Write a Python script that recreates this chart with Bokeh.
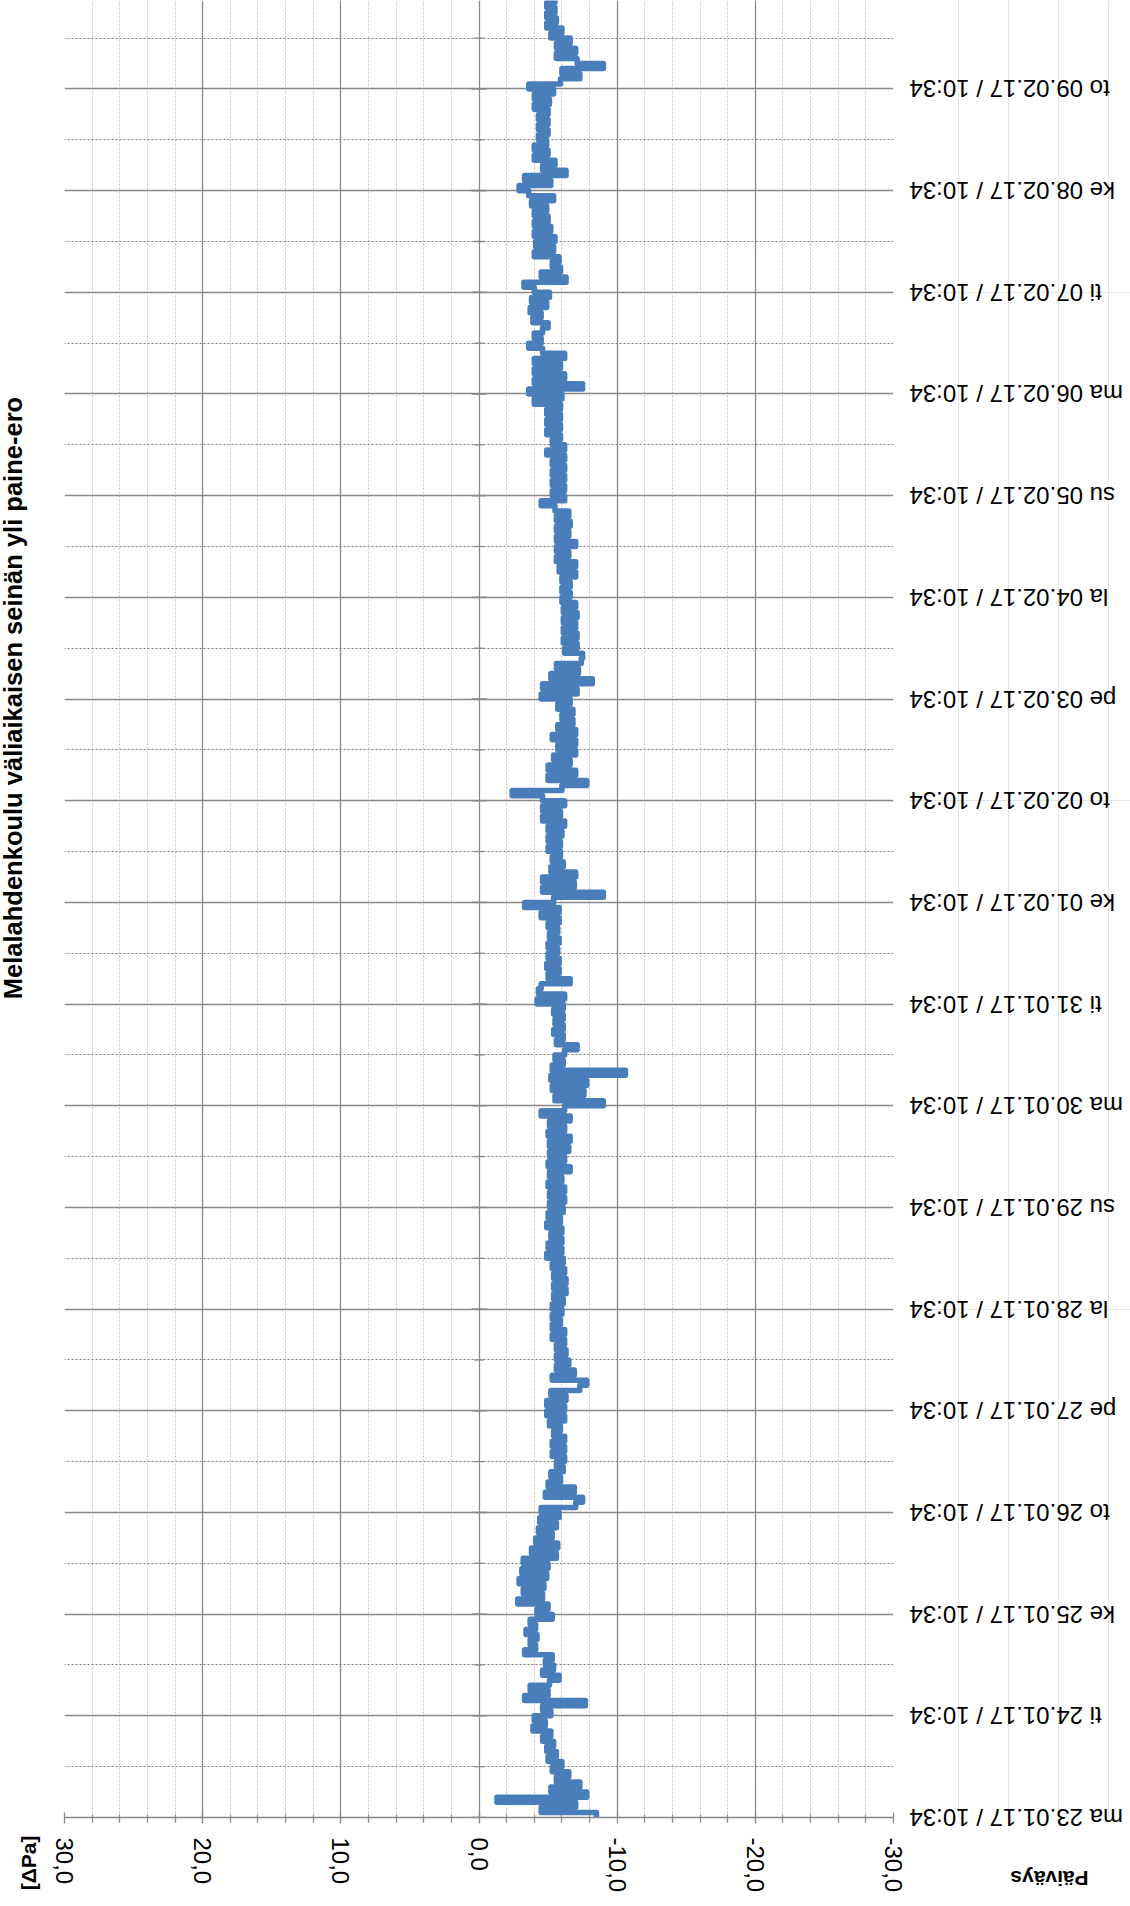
import math
import numpy as np
from bokeh.plotting import figure
from bokeh.layouts import row
from bokeh.models import Range1d, FixedTicker, Grid, Label
from bokeh.core.properties import value
from bokeh.embed import file_html
from bokeh.resources import INLINE

# ---------------- texts ----------------
title_text = "Melalahdenkoulu väliaikaisen seinän yli paine-ero"
value_axis_title = "[ΔPa]"
date_axis_title = "Päiväys"

date_labels = [
    "ma 23.01.17 / 10:34", "ti 24.01.17 / 10:34", "ke 25.01.17 / 10:34",
    "to 26.01.17 / 10:34", "pe 27.01.17 / 10:34", "la 28.01.17 / 10:34",
    "su 29.01.17 / 10:34", "ma 30.01.17 / 10:34", "ti 31.01.17 / 10:34",
    "ke 01.02.17 / 10:34", "to 02.02.17 / 10:34", "pe 03.02.17 / 10:34",
    "la 04.02.17 / 10:34", "su 05.02.17 / 10:34", "ma 06.02.17 / 10:34",
    "ti 07.02.17 / 10:34", "ke 08.02.17 / 10:34", "to 09.02.17 / 10:34",
]
pressure_ticks = [30, 20, 10, 0, -10, -20, -30]
pressure_tick_labels = ["30,0", "20,0", "10,0", "0,0", "-10,0", "-20,0", "-30,0"]

# ---------------- data: pressure difference [Pa], one reading every 0.05 d -------------
sample_interval_days = 0.05

dp_23_to_25 = [
    -8.5, -4.5, -7.0, -1.3, -7.8, -5.2, -7.3, -5.6, -6.5, -5.3,
    -6.0, -5.0, -5.6, -4.9, -5.4, -4.6, -5.2, -3.9, -4.8, -4.0,
    -5.2, -4.6, -7.7, -3.3, -5.0, -3.7, -5.1, -5.8, -4.6, -5.4,
    -4.8, -5.3, -3.3, -4.1, -3.7, -4.2, -3.4, -4.1, -3.7, -5.3,
    -4.2,
]
dp_25_to_28 = [
    -5.0, -2.8, -4.6, -3.2, -4.7, -2.9, -4.9, -3.1, -5.0, -3.2,
    -5.6, -3.8, -5.7, -4.1, -5.3, -4.3, -5.6, -4.4, -5.8, -4.5,
    -7.0, -7.5, -4.8, -6.9, -5.0, -5.9, -5.2, -6.1, -5.6, -6.2,
    -5.3, -6.2, -5.3, -6.2, -5.4, -5.9, -5.1, -6.2, -4.9, -6.2,
    -4.9, -6.3, -5.2, -7.3, -7.8, -5.3, -6.9, -5.6, -6.5, -5.6,
    -6.3, -5.6, -6.2, -5.3, -6.2, -5.3, -5.9, -5.3, -6.0,
]
dp_28_to_31 = [
    -5.3, -6.1, -5.4, -6.3, -5.4, -6.3, -5.4, -6.2, -5.3, -6.1,
    -4.9, -6.0, -5.0, -6.0, -5.2, -6.0, -4.9, -5.9, -5.0, -6.1,
    -5.1, -6.2, -5.1, -6.2, -5.0, -6.0, -5.1, -6.6, -5.0, -6.2,
    -5.1, -6.5, -5.1, -6.6, -5.0, -6.2, -5.1, -6.6, -4.5, -6.2,
    -9.0, -5.5, -7.6, -5.3, -7.8, -5.2, -10.6, -5.3, -6.1, -5.5,
    -6.2, -7.1, -5.6, -6.1, -5.4, -6.1, -5.5, -6.1, -5.4, -6.1,
    -4.2, -6.2, -4.3,
]
dp_31_to_03 = [
    -4.5, -6.6, -5.0, -5.8, -4.9, -5.8, -5.0, -5.7, -5.0, -5.8,
    -5.1, -5.7, -5.0, -5.8, -4.5, -5.8, -3.3, -5.4, -9.0, -4.6,
    -6.9, -4.6, -7.0, -5.2, -6.1, -5.3, -5.9, -5.0, -5.9, -5.0,
    -6.0, -5.0, -6.2, -4.6, -5.9, -4.6, -6.2, -4.6, -2.4, -6.0,
    -7.8, -5.0, -7.0, -5.0, -6.6, -5.4, -7.0, -5.7, -7.0, -5.3,
    -7.0, -5.7, -6.8, -6.0, -6.8, -5.7, -6.6, -4.5, -7.1, -4.6,
    -8.2, -5.2, -7.2, -5.6, -7.4,
]
dp_03_to_06 = [
    -7.5, -6.2, -7.1, -6.1, -7.1, -6.1, -7.0, -6.1, -7.1, -6.1,
    -7.0, -6.0, -6.6, -6.0, -6.6, -6.0, -7.0, -5.8, -7.0, -5.6,
    -6.5, -5.6, -7.0, -5.6, -6.5, -5.6, -6.6, -5.6, -6.5, -5.5,
    -4.5, -6.2, -5.3, -6.2, -5.3, -6.2, -5.3, -6.2, -5.3, -6.2,
    -4.9, -6.2, -5.3, -5.9, -4.9, -5.9, -4.9, -5.9, -4.9, -5.9,
    -4.0, -6.0, -3.6, -7.5, -4.0, -6.2, -4.0, -5.9, -4.0, -6.2,
    -4.6, -3.6, -4.5, -4.0, -4.6,
]
dp_06_to_10 = [
    -5.0, -3.9, -4.5, -3.7, -4.9, -3.8, -5.1, -4.0, -3.25, -6.3,
    -4.5, -5.9, -5.3, -5.8, -4.0, -5.4, -4.1, -5.5, -4.0, -5.2,
    -4.0, -5.0, -4.0, -4.9, -3.8, -5.4, -3.6, -2.9, -5.2, -3.3,
    -6.3, -4.6, -5.5, -4.0, -5.0, -4.0, -4.9, -4.3, -5.0, -4.3,
    -5.0, -4.3, -5.0, -4.0, -5.1, -4.0, -5.4, -3.6, -5.9, -7.3,
    -6.0, -9.0, -7.1, -5.6, -7.0, -5.6, -6.6, -5.2, -6.0, -4.9,
    -5.6, -4.9, -5.5, -4.9, -5.5,
]

dp = np.array(dp_23_to_25 + dp_25_to_28 + dp_28_to_31 + dp_31_to_03
              + dp_03_to_06 + dp_06_to_10)
t_days = np.arange(len(dp)) * sample_interval_days

# each logged value is held until the next reading (step trace)
path_v = np.repeat(dp, 2)
path_t = np.empty(2 * len(dp))
path_t[0::2] = t_days
path_t[1::2] = t_days + sample_interval_days

day_ticks = list(range(len(date_labels)))
half_day_ticks = [d + 0.5 for d in day_ticks]
pressure_minor = [v for v in range(30, -31, -2) if v % 10 != 0]

# ---------------- layout / styling ----------------
FONT = "Liberation Sans"
GRID = "#898989"
BLUE = "#4A7EBB"

TOTAL_W, TOTAL_H = 1130, 1906
FRAME_LEFT, FRAME_RIGHT, BOTTOM_BORDER = 64, 893, 89
MAIN_W = 908
DAY_END = 17.87

p = figure(width=MAIN_W, height=TOTAL_H, title=None,
           x_range=Range1d(30, -30), y_range=Range1d(0, DAY_END),
           x_axis_location="below", y_axis_location=None,
           toolbar_location=None, output_backend="svg",
           min_border_left=FRAME_LEFT, min_border_right=MAIN_W - FRAME_RIGHT,
           min_border_top=0, min_border_bottom=BOTTOM_BORDER,
           outline_line_color=None,
           background_fill_color="white", border_fill_color="white")

pressure_ticker = FixedTicker(ticks=pressure_ticks, minor_ticks=pressure_minor)
day_ticker = FixedTicker(ticks=day_ticks, minor_ticks=half_day_ticks)

# value axis (bottom)
xa = p.xaxis[0]
xa.ticker = pressure_ticker
xa.major_label_overrides = dict(zip(pressure_ticks, pressure_tick_labels))
xa.major_label_orientation = "vertical"
xa.major_label_text_font = FONT
xa.major_label_text_font_size = "24px"
xa.major_label_text_color = "black"
xa.major_label_standoff = 14
xa.axis_line_color = GRID
xa.axis_line_width = 1.3
xa.major_tick_line_color = GRID
xa.major_tick_line_width = 1.3
xa.major_tick_in = 5
xa.major_tick_out = 6
xa.minor_tick_line_color = GRID
xa.minor_tick_line_width = 1.3
xa.minor_tick_in = 3
xa.minor_tick_out = 5

g = p.xgrid[0]
g.ticker = pressure_ticker
g.grid_line_color = GRID
g.grid_line_width = 1.3
g.minor_grid_line_color = "#c4c4c4"
g.minor_grid_line_dash = "2 2"
g.minor_grid_line_width = 1

# date grid (horizontal lines)
yg = Grid(dimension=1, ticker=day_ticker, grid_line_color=GRID, grid_line_width=1.3,
          minor_grid_line_color="#7a7a7a", minor_grid_line_dash="2 2",
          minor_grid_line_width=1.2)
p.add_layout(yg)

# date axis tick marks where the date axis crosses the value axis (at 0 Pa)
p.scatter([0] * len(day_ticks), day_ticks, marker="dash", size=15,
          line_color=GRID, line_width=1.6)
p.scatter([0] * len(half_day_ticks), half_day_ticks, marker="dash", size=10,
          line_color=GRID, line_width=1.3)

# the measured series
p.line(path_v, path_t, line_color=BLUE, line_width=5.5,
       line_join="round", line_cap="round")

# title, rotated
p.add_layout(Label(x=p.x_range.start, y=11.01, x_offset=-52, text=title_text,
                   angle=math.pi / 2, text_align="center",
                   text_baseline="alphabetic", text_font=FONT,
                   text_font_size="25.5px", text_font_style="bold",
                   text_color="black"), "left")

# value axis title
p.add_layout(Label(x=p.x_range.start, y=0, x_offset=-36, y_offset=-18,
                   text=value_axis_title, angle=math.pi / 2,
                   text_align="right", text_baseline="alphabetic",
                   text_font=FONT, text_font_size="21px",
                   text_font_style="bold", text_color="black"), "left")

# ---------------- date-label strip (same day scale, upside-down labels) ----------------
strip_w = TOTAL_W - MAIN_W
q = figure(width=strip_w, height=TOTAL_H, title=None,
           x_range=Range1d(0, strip_w), y_range=p.y_range,
           x_axis_location=None, y_axis_location=None,
           toolbar_location=None, output_backend="svg",
           min_border_left=0, min_border_right=0, min_border_top=0,
           min_border_bottom=BOTTOM_BORDER, outline_line_color=None,
           background_fill_color="white", border_fill_color="white")

label_x = FRAME_RIGHT + 16 - MAIN_W   # label ends ~16 px right of the plot edge

# labels of days 1..17 as text glyphs
q.text(x=[label_x] * (len(date_labels) - 1), y=day_ticks[1:], text=date_labels[1:],
       angle=math.pi, text_align="right", text_baseline="middle",
       text_font=value(FONT), text_font_size="24px", text_color="black")

# first label sits on the frame edge: draw it in the bottom panel (not clipped)
q.add_layout(Label(x=label_x, y=day_ticks[0], text=date_labels[0], angle=math.pi,
                   text_align="right", text_baseline="middle",
                   text_font=FONT, text_font_size="24px", text_color="black"),
             "below")

# date axis title, upside down
q.add_layout(Label(x=1049 - MAIN_W, y=0, y_offset=-61, text=date_axis_title,
                   angle=math.pi, text_align="center", text_baseline="middle",
                   text_font=FONT, text_font_size="21px", text_font_style="bold",
                   text_color="black"), "below")

layout = row(p, q, spacing=0)
open("out.html", "w").write(file_html(layout, INLINE))
